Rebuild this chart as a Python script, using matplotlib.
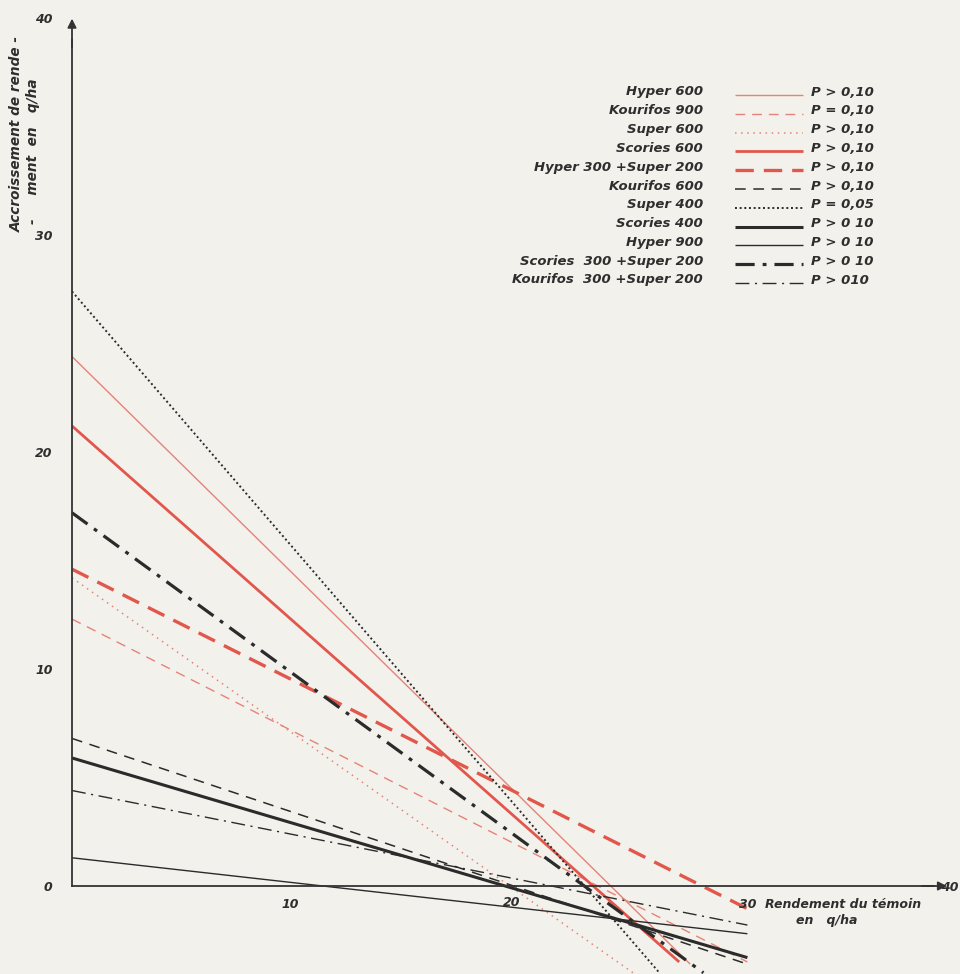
import matplotlib
matplotlib.use("Agg")
import matplotlib.pyplot as plt

# series (x = rendement du temoin, y = accroissement)
names = ["Hyper 600", "Kourifos 900", "Super 600", "Scories 600",
         "Hyper 300 +Super 200", "Kourifos 600", "Super 400", "Scories 400",
         "Hyper 900", "Scories  300 +Super 200", "Kourifos  300 +Super 200"]
p_text = ["P > 0,10", "P = 0,10", "P > 0,10", "P > 0,10", "P > 0,10",
          "P > 0,10", "P = 0,05", "P > 0 10", "P > 0 10", "P > 0 10", "P > 010"]
y_start = [24.4, 12.3, 14.2, 21.2, 14.6, 6.8, 27.4, 5.9, 1.3, 17.2, 4.4]
x_end = [28.1, 30.7, 25.5, 27.6, 31.0, 30.7, 26.7, 30.7, 30.7, 28.7, 30.7]
y_end = [-3.6, -3.5, -4.0, -3.5, -1.2, -3.6, -4.0, -3.3, -2.2, -4.0, -1.8]

y_ticks = [0, 10, 20, 30, 40]
x_ticks = [10, 20, 30, 40]

RED = "#e2574c"
PINK = "#e58378"
BLK = "#2b2b2b"
styles = [
    dict(color=PINK, lw=1.0, ls="-"),
    dict(color=PINK, lw=1.0, ls=(0, (7, 5))),
    dict(color=PINK, lw=1.1, ls=(0, (1, 3))),
    dict(color=RED, lw=2.0, ls="-"),
    dict(color=RED, lw=2.4, ls=(0, (5.5, 3))),
    dict(color=BLK, lw=1.1, ls=(0, (7, 5))),
    dict(color=BLK, lw=1.4, ls=(0, (1, 1.4))),
    dict(color=BLK, lw=2.2, ls="-"),
    dict(color=BLK, lw=1.0, ls="-"),
    dict(color=BLK, lw=2.3, ls=(0, (6, 2.5, 1.2, 2.5))),
    dict(color=BLK, lw=1.0, ls=(0, (10, 4, 1.5, 4))),
]

W, H = 960, 974
X0, Y0, SX, SY = 72, 886, 22.0, 21.7   # pixel of origin, px per unit

fig = plt.figure(figsize=(W / 100, H / 100), dpi=100)
fig.patch.set_facecolor("#f3f1ec")
ax = fig.add_axes([0, 0, 1, 1])
ax.set_facecolor("#f3f1ec")
ax.set_xlim(-X0 / SX, (W - X0) / SX)
ax.set_ylim(-(H - Y0) / SY, Y0 / SY)

txt = dict(family="DejaVu Sans", style="italic", weight="bold", color="#2e2e2e")

for i in range(len(names)):
    ax.plot([0, x_end[i]], [y_start[i], y_end[i]], solid_capstyle="butt", **styles[i])

# axes as arrows
for s in ["top", "right"]:
    ax.spines[s].set_visible(False)
ax.spines["left"].set_position(("data", 0))
ax.spines["bottom"].set_position(("data", 0))
ax.spines["left"].set_bounds(0, 39)
ax.spines["bottom"].set_bounds(0, 39.2)
for s in ["left", "bottom"]:
    ax.spines[s].set_color("#333333")
    ax.spines[s].set_linewidth(1.3)
ax.annotate("", xy=(0, 40.1), xytext=(0, 38.5),
            arrowprops=dict(arrowstyle="-|>", color="#333333", lw=1.3, mutation_scale=13))
ax.annotate("", xy=(39.9, 0), xytext=(38.5, 0),
            arrowprops=dict(arrowstyle="-|>", color="#333333", lw=1.3, mutation_scale=13))

ax.set_yticks(y_ticks)
ax.set_yticklabels([str(v) for v in y_ticks], fontsize=9, **txt)
ax.tick_params(axis="y", length=0, pad=14)
ax.set_xticks([])

# x tick labels (hand lettered, placed a bit irregularly)
x_off = [-0.1, 0.0, 0.7, -0.1]
y_off = [-0.85, -0.75, -0.85, -0.05]
for v, dx, dy in zip(x_ticks, x_off, y_off):
    ax.text(v + dx, dy, str(v), fontsize=9, ha="center", va="center", **txt)

ax.text(31.5, -0.85, "Rendement du témoin", fontsize=9, ha="left", va="center", **txt)
ax.text(32.9, -1.6, "en   q/ha", fontsize=9, ha="left", va="center", **txt)

fig.text(17 / W, 1 - 232 / H, "Accroissement de rende -", fontsize=9.8, rotation=90,
         rotation_mode="anchor", ha="left", va="center", **txt)
fig.text(33 / W, 1 - 224 / H, "-     ment  en   q/ha", fontsize=9.8, rotation=90,
         rotation_mode="anchor", ha="left", va="center", **txt)

# legend drawn by hand: label | line sample | P value
for i in range(len(names)):
    yy = 1 - (92 + 18.8 * i) / H
    ax.text(703 / W, yy, names[i], transform=ax.transAxes, fontsize=9.5,
            ha="right", va="center", **txt)
    ax.plot([735 / W, 803 / W], [yy - 3 / H, yy - 3 / H], transform=ax.transAxes,
            solid_capstyle="butt", **styles[i])
    ax.text(811 / W, yy, p_text[i], transform=ax.transAxes, fontsize=9.5,
            ha="left", va="center", **txt)

fig.savefig("out.png", dpi=100, facecolor=fig.get_facecolor())
